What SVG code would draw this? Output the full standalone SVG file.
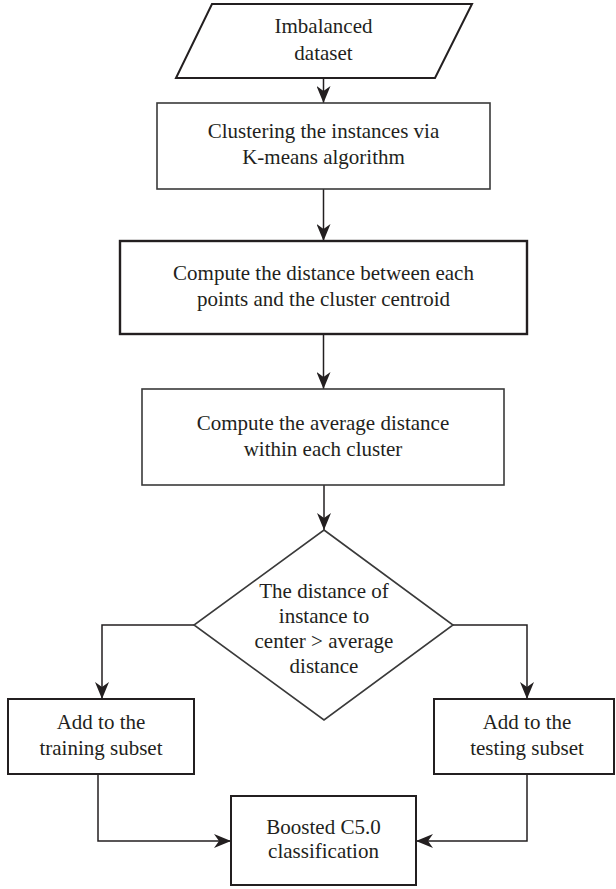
<svg xmlns="http://www.w3.org/2000/svg" width="616" height="889" viewBox="0 0 616 889">
<style>
  .shape { fill: #ffffff; stroke: #231f20; stroke-width: 2; }
  .thin { stroke-width: 1.6; stroke: #3a3a3a; }
  .thick { stroke-width: 2.4; }
  .lbl { font-family: 'Liberation Serif', 'DejaVu Serif', 'Times New Roman', serif; font-size: 21px; fill: #231f20; text-anchor: middle; }
  .conn { fill: none; stroke: #231f20; stroke-width: 1.5; }
</style>
<defs>
  <marker id="arrow" markerUnits="userSpaceOnUse" markerWidth="17" markerHeight="14" refX="17" refY="7" orient="auto">
    <path d="M0,0 L17,7 L0,14 L5,7 z" fill="#231f20"/>
  </marker>
</defs>

<g id="connectors">
  <path class="conn" d="M323.5,78 L323.5,103" marker-end="url(#arrow)"/>
  <path class="conn" d="M323.5,189 L323.5,241" marker-end="url(#arrow)"/>
  <path class="conn" d="M323.5,334 L323.5,389" marker-end="url(#arrow)"/>
  <path class="conn" d="M324,485 L324,530" marker-end="url(#arrow)"/>
  <path class="conn" d="M194,625 L102,625 L102,699" marker-end="url(#arrow)"/>
  <path class="conn" d="M453,625 L527,625 L527,699" marker-end="url(#arrow)"/>
  <path class="conn" d="M98,774 L98,841 L231,841" marker-end="url(#arrow)"/>
  <path class="conn" d="M527,774 L527,841 L416,841" marker-end="url(#arrow)"/>
</g>

<g id="imbalanced-dataset">
  <polygon class="shape" points="212,4 472,4 435,78 176,78"/>
  <text class="lbl" x="323.5" y="33">Imbalanced</text>
  <text class="lbl" x="323.5" y="60">dataset</text>
</g>

<g id="clustering">
  <rect class="shape thin" x="157" y="103" width="333" height="86"/>
  <text class="lbl" x="323.5" y="138">Clustering the instances via</text>
  <text class="lbl" x="323.5" y="164">K-means algorithm</text>
</g>

<g id="compute-distance">
  <rect class="shape thick" x="120" y="241" width="407" height="93"/>
  <text class="lbl" x="323.5" y="280">Compute the distance between each</text>
  <text class="lbl" x="323.5" y="306">points and the cluster centroid</text>
</g>

<g id="average-distance">
  <rect class="shape thin" x="142" y="389" width="362" height="96"/>
  <text class="lbl" x="323" y="430">Compute the average distance</text>
  <text class="lbl" x="323" y="456">within each cluster</text>
</g>

<g id="decision">
  <polygon class="shape thin" points="324,530 453,625 324,720 194,625"/>
  <text class="lbl" x="324" y="598">The distance of</text>
  <text class="lbl" x="324" y="623">instance to</text>
  <text class="lbl" x="324" y="648">center &gt; average</text>
  <text class="lbl" x="324" y="673">distance</text>
</g>

<g id="training-subset">
  <rect class="shape" x="8" y="699" width="186" height="75"/>
  <text class="lbl" x="101" y="729">Add to the</text>
  <text class="lbl" x="101" y="755">training subset</text>
</g>

<g id="testing-subset">
  <rect class="shape" x="434" y="699" width="180" height="75"/>
  <text class="lbl" x="527" y="729">Add to the</text>
  <text class="lbl" x="527" y="755">testing subset</text>
</g>

<g id="boosted-c50">
  <rect class="shape" x="231" y="796" width="185" height="89"/>
  <text class="lbl" x="323.5" y="834">Boosted C5.0</text>
  <text class="lbl" x="323.5" y="858">classification</text>
</g>
</svg>
